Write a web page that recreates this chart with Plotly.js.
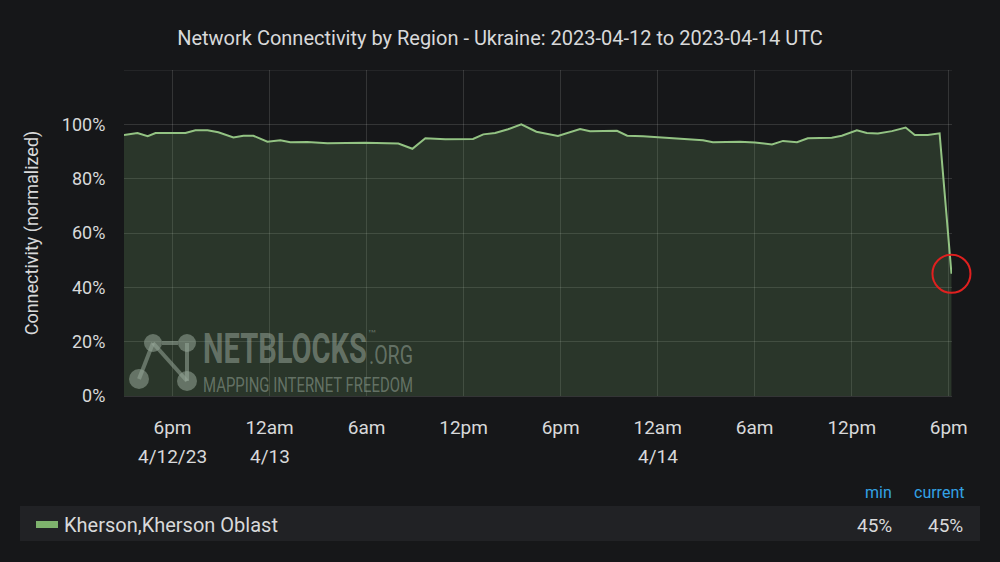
<!DOCTYPE html>
<html>
<head>
<meta charset="utf-8">
<script src="https://cdn.plot.ly/plotly-3.0.1.min.js"></script>
<style>
html,body{margin:0;padding:0;background:#161719;}
#chart{width:1000px;height:562px;}
</style>
</head>
<body>
<div id="chart"></div>
<script>
// ---- data ----
const times = [
'2023-04-12 15:00','2023-04-12 15:50','2023-04-12 16:28','2023-04-12 16:57','2023-04-12 18:48',
'2023-04-12 19:25','2023-04-12 20:10','2023-04-12 20:50','2023-04-12 21:46','2023-04-12 22:23',
'2023-04-12 23:00','2023-04-12 23:52','2023-04-13 00:40','2023-04-13 01:17','2023-04-13 02:20',
'2023-04-13 03:35','2023-04-13 05:55','2023-04-13 07:58','2023-04-13 08:50','2023-04-13 09:38',
'2023-04-13 10:52','2023-04-13 12:35','2023-04-13 13:13','2023-04-13 13:57','2023-04-13 14:45',
'2023-04-13 15:34','2023-04-13 16:30','2023-04-13 17:50','2023-04-13 19:12','2023-04-13 19:49',
'2023-04-13 21:29','2023-04-13 22:07','2023-04-13 23:06','2023-04-14 00:20','2023-04-14 01:12',
'2023-04-14 02:48','2023-04-14 03:25','2023-04-14 05:05','2023-04-14 06:01','2023-04-14 07:04',
'2023-04-14 07:45','2023-04-14 08:37','2023-04-14 09:17','2023-04-14 10:46','2023-04-14 11:23',
'2023-04-14 12:19','2023-04-14 12:56','2023-04-14 13:37','2023-04-14 14:29','2023-04-14 15:20',
'2023-04-14 15:54','2023-04-14 16:42','2023-04-14 17:26','2023-04-14 18:10'
];
const kherson = [
96.1,96.8,95.6,96.8,96.8,
97.8,97.8,97.1,95.2,95.8,
95.8,93.6,94.1,93.4,93.5,
93.0,93.2,92.9,91.0,94.9,
94.5,94.6,96.3,96.8,98.2,
100.0,97.3,95.7,98.3,97.5,
97.6,95.8,95.6,95.1,94.6,
94.1,93.4,93.6,93.3,92.6,
93.9,93.4,94.9,95.1,95.8,
97.8,96.8,96.6,97.5,98.8,
96.1,96.1,96.7,45.0
];
const seriesName = 'Kherson,Kherson Oblast';
const xTickVals = ['2023-04-12 18:00','2023-04-13 00:00','2023-04-13 06:00','2023-04-13 12:00','2023-04-13 18:00',
                   '2023-04-14 00:00','2023-04-14 06:00','2023-04-14 12:00','2023-04-14 18:00'];
const xTickText = ['6pm','12am','6am','12pm','6pm','12am','6am','12pm','6pm'];
const dateLabels = [['2023-04-12 18:00','4/12/23'],['2023-04-13 00:00','4/13'],['2023-04-14 00:00','4/14']];
const yTickVals = [0,20,40,60,80,100];
const yTickText = ['0%','20%','40%','60%','80%','100%'];
const minVal = Math.min(...kherson);
const curVal = kherson[kherson.length-1];

// ---- layout helpers (pixel -> paper) ----
const PL=124, PR=952, PT=70, PB=396;
const px = x => (x-PL)/(PR-PL);
const py = y => (PB-y)/(PB-PT);

const txt = '#d8d9da';
const grid = 'rgba(255,255,255,0.13)';
const wm = 'rgba(150,165,152,0.55)';
const WMF = 'Roboto';

const annotations = [];
dateLabels.forEach(d => annotations.push({
  x:d[0], xref:'x', y:0, yref:'paper', yshift:-60, text:d[1], showarrow:false,
  font:{family:'Roboto', size:19, color:txt}, xanchor:'center', yanchor:'middle'
}));
// legend table
annotations.push({x:px(966), y:py(492), xref:'paper', yref:'paper', text:'current', showarrow:false,
  xanchor:'right', yanchor:'middle', font:{family:'Roboto', size:16, color:'#33a2e5'}});
annotations.push({x:px(894), y:py(492), xref:'paper', yref:'paper', text:'min', showarrow:false,
  xanchor:'right', yanchor:'middle', font:{family:'Roboto', size:16, color:'#33a2e5'}});
annotations.push({x:px(62), y:py(525), xref:'paper', yref:'paper', text:seriesName, showarrow:false,
  xanchor:'left', yanchor:'middle', font:{family:'Roboto', size:20, color:txt}});
annotations.push({x:px(894), y:py(525), xref:'paper', yref:'paper', text:Math.round(minVal)+'%', showarrow:false,
  xanchor:'right', yanchor:'middle', font:{family:'Roboto', size:19, color:txt}});
annotations.push({x:px(965), y:py(525), xref:'paper', yref:'paper', text:Math.round(curVal)+'%', showarrow:false,
  xanchor:'right', yanchor:'middle', font:{family:'Roboto', size:19, color:txt}});
// watermark (condensed afterwards to the logo's widths)
const wmIndex = annotations.length;
const wmSpec = [
  {text:'<b>NETBLOCKS</b>', x:201, y:348, size:42, w:164},
  {text:'.ORG', x:367, y:355, size:26, w:44},
  {text:'™', x:366, y:333, size:10, w:9},
  {text:'MAPPING INTERNET FREEDOM', x:201, y:385, size:21, w:210}
];
wmSpec.forEach(s => annotations.push({x:px(s.x), y:py(s.y), xref:'paper', yref:'paper', text:s.text,
  showarrow:false, xanchor:'left', yanchor:'middle', font:{family:WMF, size:s.size, color:wm}}));

const circ = (cx,cy,r,fill) => ({type:'circle', xref:'paper', yref:'paper',
  x0:px(cx-r), x1:px(cx+r), y0:py(cy+r), y1:py(cy-r), fillcolor:fill, line:{width:0}, layer:'above'});
const seg = (x0,y0,x1,y1) => ({type:'line', xref:'paper', yref:'paper',
  x0:px(x0), y0:py(y0), x1:px(x1), y1:py(y1), line:{color:wm, width:4}, layer:'above'});

const shapes = [
  {type:'line', xref:'paper', yref:'y', x0:0, x1:1, y0:120, y1:120, line:{color:grid, width:1}, layer:'below'},
  {type:'rect', xref:'paper', yref:'paper', x0:px(20), x1:px(980), y0:py(541), y1:py(506),
   fillcolor:'#212225', line:{width:0}, layer:'below'},
  {type:'rect', xref:'paper', yref:'paper', x0:px(36), x1:px(58), y0:py(528), y1:py(521),
   fillcolor:'#7eb26d', line:{width:0}},
  seg(162,343,178,343), seg(153,343,139,379), seg(153,343,187,381), seg(187,343,187,381),
  circ(153,343,9,wm), circ(187,343,9,wm), circ(139,379,10,wm), circ(187,381,10,wm)
];

const trace = {
  x:times, y:kherson, type:'scatter', mode:'lines', name:seriesName,
  line:{color:'#93c383', width:2},
  fill:'tozeroy', fillcolor:'rgba(126,178,109,0.2)', hoverinfo:'skip'
};
// red ring around the latest value
const marker = {
  x:[times[times.length-1]], y:[curVal], type:'scatter', mode:'markers', cliponaxis:false,
  marker:{symbol:'circle-open', size:38, color:'#e0201f', line:{width:2, color:'#e0201f'}}, hoverinfo:'skip'
};

const layout = {
  width:1000, height:562,
  paper_bgcolor:'#161719', plot_bgcolor:'#161719',
  margin:{l:PL, r:1000-PR, t:PT, b:562-PB},
  showlegend:false,
  title:{text:'Network Connectivity by Region - Ukraine: 2023-04-12 to 2023-04-14 UTC',
         font:{family:'Roboto', size:20, color:txt}, x:0.5, xanchor:'center', y:1-38/562, yanchor:'middle'},
  xaxis:{type:'date', range:['2023-04-12 15:00','2023-04-14 18:12'],
         tickvals:xTickVals, ticktext:xTickText, showgrid:true, gridcolor:grid,
         ticks:'outside', ticklen:14, tickcolor:'rgba(0,0,0,0)',
         tickfont:{family:'Roboto', size:19, color:txt}, zeroline:false, showline:false, fixedrange:true},
  yaxis:{range:[0,120], tickvals:yTickVals, ticktext:yTickText, showgrid:true, gridcolor:grid,
         zeroline:true, zerolinecolor:grid, zerolinewidth:1,
         ticks:'outside', ticklen:14, tickcolor:'rgba(0,0,0,0)',
         tickfont:{family:'Roboto', size:18, color:txt},
         title:{text:'Connectivity (normalized)', font:{family:'Roboto', size:18, color:txt}, standoff:18},
         fixedrange:true},
  annotations:annotations,
  shapes:shapes
};

Plotly.newPlot('chart',[trace, marker],layout,{displayModeBar:false, staticPlot:true}).then(gd => {
  wmSpec.forEach((s,i) => {
    const t = gd.querySelector('g.annotation[data-index="'+(wmIndex+i)+'"] text.annotation-text');
    if (!t) return;
    const bb = t.getBBox();
    if (!bb.width) return;
    const k = s.w / bb.width;
    t.setAttribute('transform', 'translate('+(bb.x*(1-k))+',0) scale('+k+',1)');
  });
});
</script>
</body>
</html>
